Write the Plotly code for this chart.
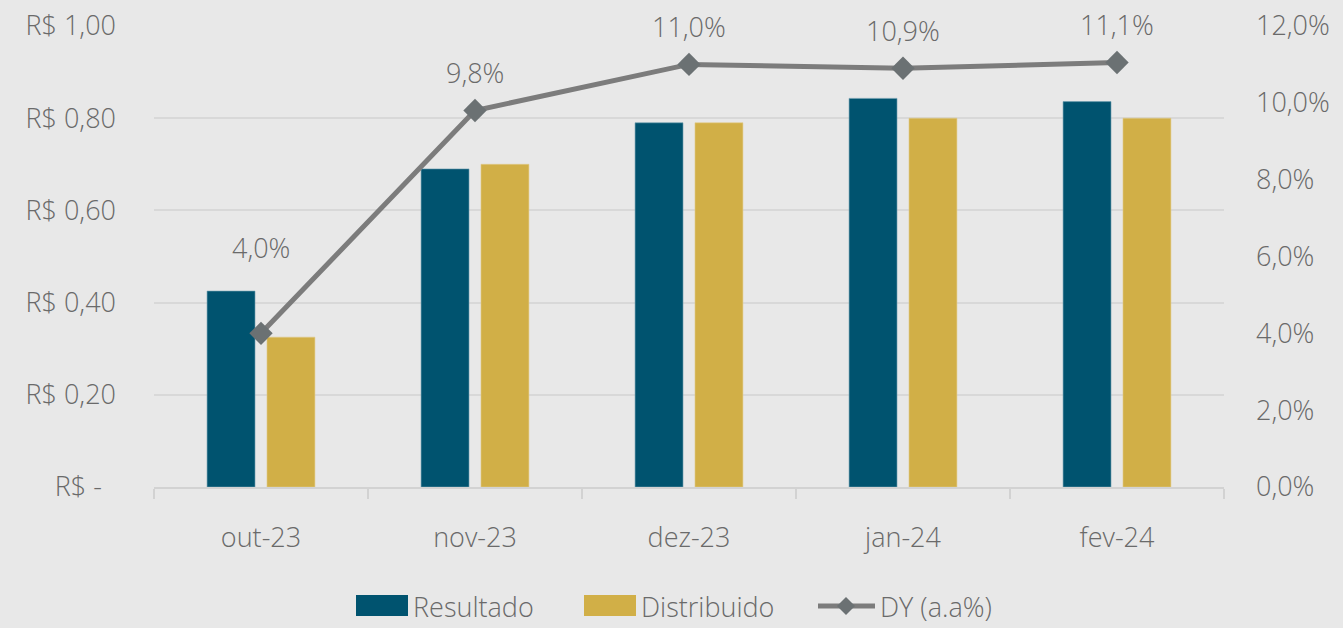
import plotly.graph_objects as go

categories = ["out-23", "nov-23", "dez-23", "jan-24", "fev-24"]
resultado = [0.425, 0.69, 0.79, 0.843, 0.836]
distribuido = [0.325, 0.70, 0.79, 0.80, 0.80]
dy = [4.0, 9.8, 11.0, 10.9, 11.05]
dy_labels = ["4,0%", "9,8%", "11,0%", "10,9%", "11,1%"]
dy_label_shift = [86, 38, 38, 38, 38]

left_ticks = [0, 0.2, 0.4, 0.6, 0.8, 1.0]
left_ticktext = ["R$ -\u00a0\u00a0", "R$ 0,20", "R$ 0,40", "R$ 0,60", "R$ 0,80", "R$ 1,00"]
right_ticks = [0, 2, 4, 6, 8, 10, 12]
right_ticktext = ["0,0%", "2,0%", "4,0%", "6,0%", "8,0%", "10,0%", "12,0%"]

names = ["Resultado", "Distribuido", "DY (a.a%)"]
colors = ["#00536f", "#d1af47", "#7c7c7c"]

FONT = "Open Sans"
TXT = "#6a6a6a"
BG = "#e8e8e8"
FS = 27

W, H = 1343, 628
ML, MR, MT, MB = 154, 119, 26, 141
PW, PH = W - ML - MR, H - MT - MB


def px(x):
    return (x - ML) / PW


def py(y):
    return (H - MB - y) / PH


fig = go.Figure()
fig.add_trace(go.Bar(x=categories, y=resultado, name=names[0],
                     marker=dict(color=colors[0], line=dict(color="#6f9fb0", width=0.6))))
fig.add_trace(go.Bar(x=categories, y=distribuido, name=names[1],
                     marker=dict(color=colors[1], line=dict(color="#e0cb8a", width=0.6))))
fig.add_trace(go.Scatter(x=categories, y=dy, name=names[2], yaxis="y2",
                         mode="lines+markers",
                         line=dict(color=colors[2], width=5),
                         marker=dict(symbol="diamond", size=18, color="#6b7173")))

for c, v, t, s in zip(categories, dy, dy_labels, dy_label_shift):
    fig.add_annotation(x=c, y=v, yref="y2", text=t, showarrow=False,
                       yshift=s, font=dict(family=FONT, size=FS, color=TXT, weight=300))

# manual legend
ly = 606
shapes = []
for (x0, x1), col in zip([(356, 408), (584, 636)], colors[:2]):
    shapes.append(dict(type="rect", xref="paper", yref="paper",
                       x0=px(x0), x1=px(x1), y0=py(616), y1=py(595),
                       fillcolor=col, line=dict(width=0)))
shapes.append(dict(type="line", xref="paper", yref="paper",
                   x0=px(818), x1=px(875), y0=py(ly), y1=py(ly),
                   line=dict(color=colors[2], width=5)))
shapes.append(dict(type="path", xref="paper", yref="paper",
                   path="M {a},{b} L {c},{d} L {a},{e} L {f},{d} Z".format(
                       a=px(846), b=py(ly - 9), c=px(855), d=py(ly), e=py(ly + 9), f=px(837)),
                   fillcolor="#6b7173", line=dict(width=0)))
for xt, name in zip([411, 639, 878], names):
    fig.add_annotation(x=px(xt), y=py(ly), xref="paper", yref="paper", text=name,
                       showarrow=False, xanchor="left", yanchor="middle",
                       font=dict(family=FONT, size=FS, color=TXT, weight=300))

fig.update_layout(
    width=W, height=H,
    margin=dict(l=ML, r=MR, t=MT, b=MB, autoexpand=False),
    paper_bgcolor=BG, plot_bgcolor=BG,
    barmode="group", bargap=0.44, bargroupgap=0.2,
    font=dict(family=FONT, size=FS, color=TXT, weight=300),
    showlegend=False,
    shapes=shapes,
    xaxis=dict(showgrid=False, showline=True, linecolor="#d2d2d2", linewidth=2,
               ticks="outside", tickson="boundaries", ticklen=10, tickcolor="#d2d2d2",
               tickwidth=2, ticklabelstandoff=26, automargin=False,
               tickfont=dict(family=FONT, size=FS, color=TXT, weight=300)),
    yaxis=dict(range=[0, 1.0], tickvals=left_ticks, ticktext=left_ticktext,
               showgrid=True, gridcolor="#d8d8d8", gridwidth=2, zeroline=False,
               ticklabelstandoff=37, automargin=False,
               tickfont=dict(family=FONT, size=FS, color=TXT, weight=300)),
    yaxis2=dict(range=[0, 12], overlaying="y", side="right", tickvals=right_ticks,
                ticktext=right_ticktext, showgrid=False, zeroline=False,
                ticklabelstandoff=31, automargin=False,
                tickfont=dict(family=FONT, size=FS, color=TXT, weight=300)),
)

fig.write_html("out.html", config={"displayModeBar": False},
               post_script="document.body.style.margin='0';document.body.style.overflow='hidden';")
